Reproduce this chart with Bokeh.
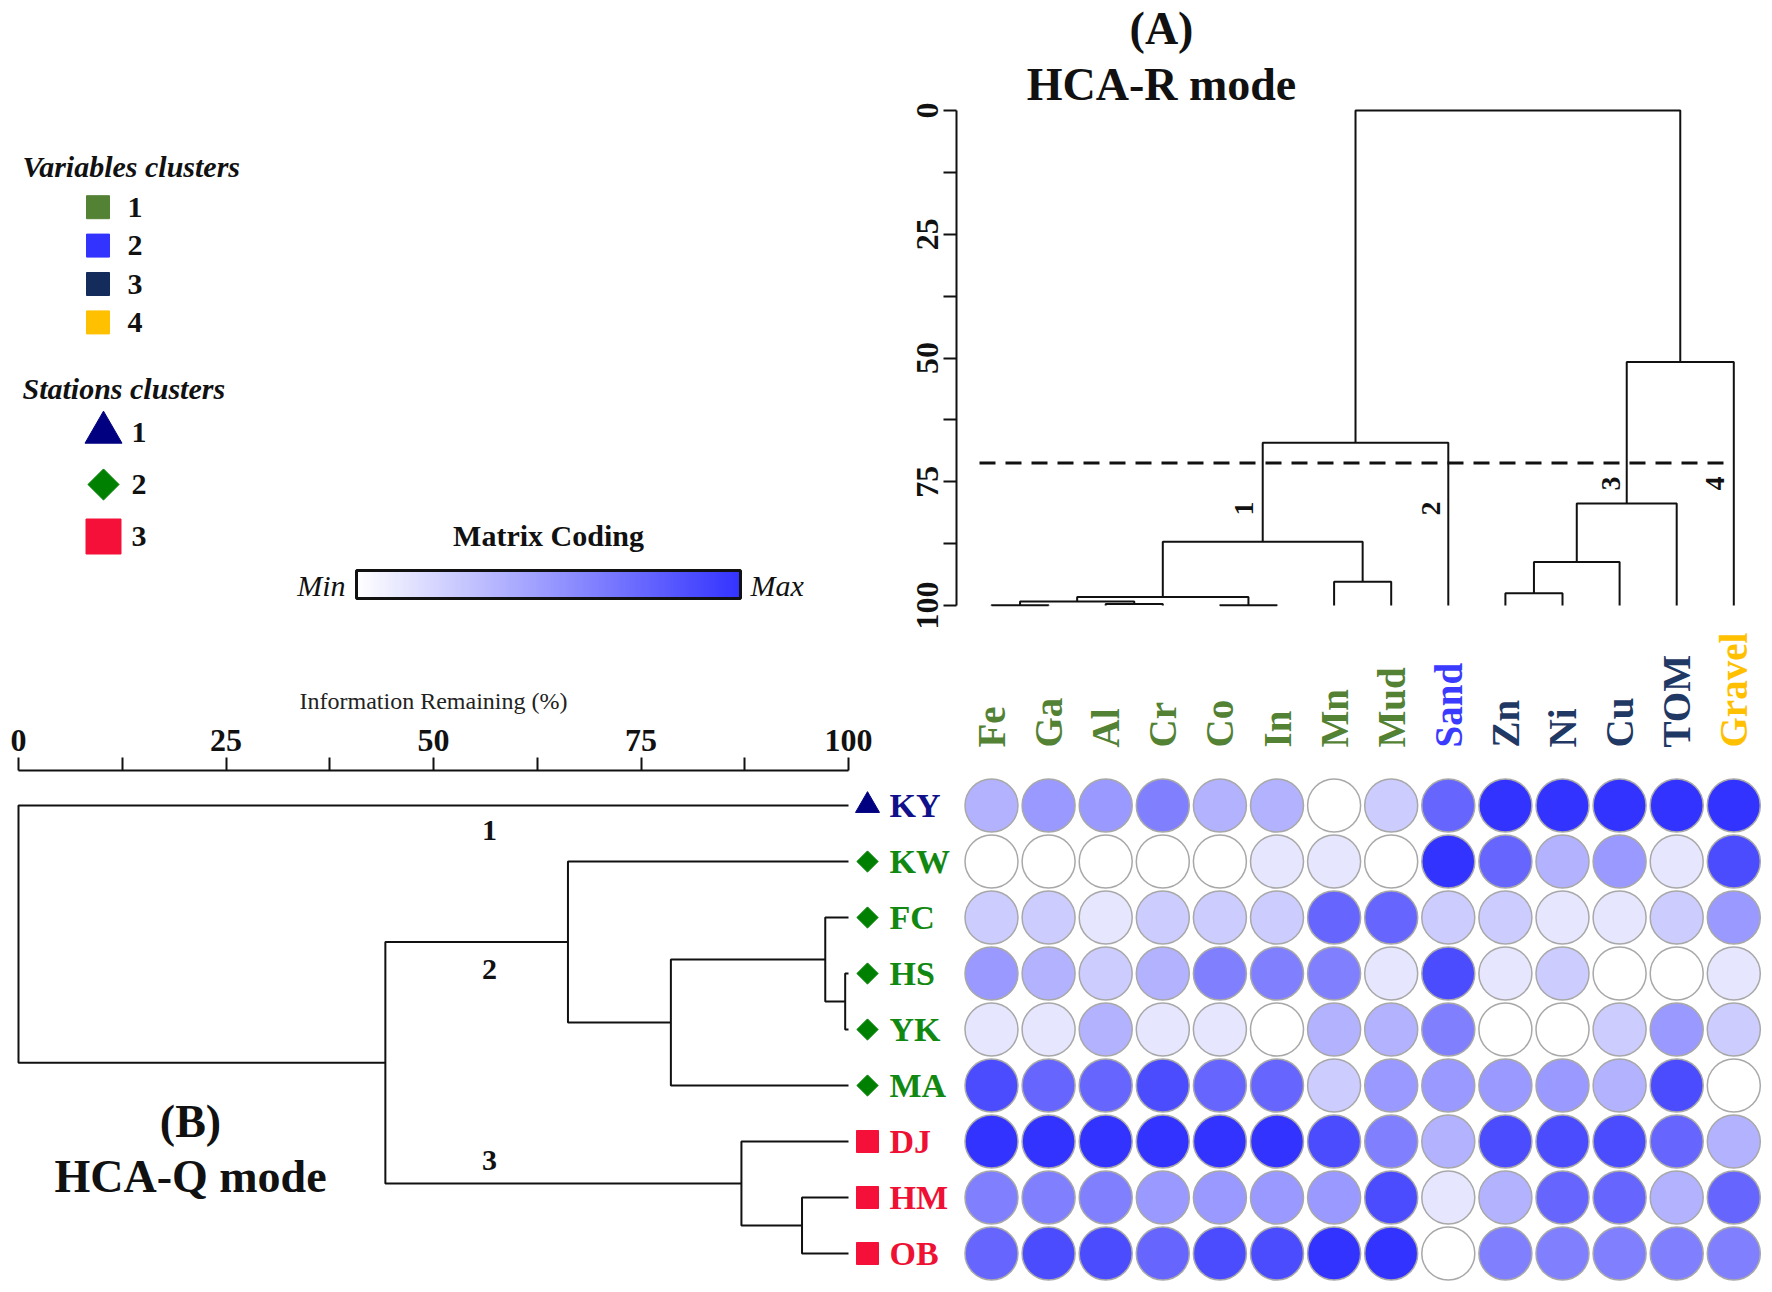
import math
import numpy as np
from bokeh.plotting import figure
from bokeh.models import Range1d, FixedTicker, LinearColorMapper, ColumnDataSource, LinearAxis
from bokeh.core.properties import value
from bokeh.transform import transform
from bokeh.embed import file_html
from bokeh.resources import INLINE

FONT = "Liberation Serif"

# ------------------------------------------------------------------ data
variables = ["Fe", "Ga", "Al", "Cr", "Co", "In", "Mn", "Mud", "Sand",
             "Zn", "Ni", "Cu", "TOM", "Gravel"]
variable_cluster = [1, 1, 1, 1, 1, 1, 1, 1, 2, 3, 3, 3, 3, 4]
stations = ["KY", "KW", "FC", "HS", "YK", "MA", "DJ", "HM", "OB"]
station_cluster = [1, 2, 2, 2, 2, 2, 3, 3, 3]

# R-mode (variables) merges: leaves 0..13, new node ids 14..
r_merge_a = [0, 2, 14, 4, 16, 6, 18, 20, 9, 22, 23, 24, 21]
r_merge_b = [1, 3, 15, 5, 17, 7, 19, 8, 10, 11, 12, 13, 25]
r_merge_h = [99.95, 99.7, 99.2, 99.95, 98.3, 95.2, 87.1, 67.1,
             97.5, 91.2, 79.4, 50.8, 0.0]
r_cut = 71.2

# Q-mode (stations) merges: leaves 0..8, new node ids 9..
q_merge_a = [3, 2, 10, 1, 7, 6, 12, 0]
q_merge_b = [4, 9, 5, 11, 8, 13, 14, 15]
q_merge_h = [99.6, 97.2, 78.6, 66.2, 94.4, 87.1, 44.2, 0.0]

leaf_height = 100.0

# matrix coding levels (0 = min ... 8 = max), one list per station
ky = [3, 4, 4, 5, 3, 3, 0, 2, 6, 8, 8, 8, 8, 8]
kw = [0, 0, 0, 0, 0, 1, 1, 0, 8, 6, 3, 4, 1, 7]
fc = [2, 2, 1, 2, 2, 2, 6, 6, 2, 2, 1, 1, 2, 4]
hs = [4, 3, 2, 3, 5, 5, 5, 1, 7, 1, 2, 0, 0, 1]
yk = [1, 1, 3, 1, 1, 0, 3, 3, 5, 0, 0, 2, 4, 2]
ma = [7, 6, 6, 7, 6, 6, 2, 4, 4, 4, 4, 3, 7, 0]
dj = [8, 8, 8, 8, 8, 8, 7, 5, 3, 7, 7, 7, 6, 3]
hm = [5, 5, 5, 4, 4, 4, 4, 7, 1, 3, 6, 6, 3, 6]
ob = [6, 7, 7, 6, 7, 7, 8, 8, 0, 5, 5, 5, 5, 5]
matrix_rows = [ky, kw, fc, hs, yk, ma, dj, hm, ob]
n_levels = 9

axis_ticks = [0, 25, 50, 75, 100]
axis_minor = [12.5, 37.5, 62.5, 87.5]

# ------------------------------------------------------------------ styles
var_colors = ["#548235", "#3333ff", "#142c5c", "#ffc000"]
var_text_colors = ["#548235", "#3b3bff", "#1f3864", "#ffc000"]
st_colors = ["#000080", "#008000", "#f5103a"]
st_text_colors = ["#10108a", "#118811", "#ee1133"]
st_markers = ["triangle", "square", "square"]
st_angles = [0.0, math.pi / 4, 0.0]
st_sizes = [24, 15, 22]
leg_sizes = [37, 22, 35]
INK = "#111111"


def lerp_hex(c0, c1, t):
    a = [int(c0[i:i + 2], 16) for i in (1, 3, 5)]
    b = [int(c1[i:i + 2], 16) for i in (1, 3, 5)]
    return "#%02x%02x%02x" % tuple(round(a[k] + (b[k] - a[k]) * t) for k in range(3))


level_palette = [lerp_hex("#ffffff", "#3333ff", i / (n_levels - 1)) for i in range(n_levels)]
grad_palette = [lerp_hex("#ffffff", "#3333ff", i / 255) for i in range(256)]

# ------------------------------------------------------------------ layout (page px)
PAGE_W, PAGE_H = 1772, 1292
R_AXIS_X = 956
COL0_PX, COL_STEP = 991.0, 57.1
R0_PX, R100_PX = 110.0, 605.0
ROW0_PX, ROW_STEP = 805.0, 56.0
Q0_PX, Q100_PX = 18.0, 848.0
Q_AXIS_Y = 770

R_SCALE = (R100_PX - R0_PX) / 100.0
Q_SCALE = (Q100_PX - Q0_PX) / 100.0


def col_of(px):
    return (px - COL0_PX) / COL_STEP


def r_of(py):
    return (py - R0_PX) / R_SCALE


def row_of(py):
    return (py - ROW0_PX) / ROW_STEP


def q_of(px):
    return (px - Q0_PX) / Q_SCALE


def dendro(n_leaves, ma_, mb_, mh_, leaf_h):
    pos = [float(i) for i in range(n_leaves)]
    hgt = [leaf_h] * n_leaves
    P, H = [], []
    for a, b, h in zip(ma_, mb_, mh_):
        P.append([pos[a], pos[a], pos[b], pos[b]])
        H.append([hgt[a], h, h, hgt[b]])
        pos.append((pos[a] + pos[b]) / 2.0)
        hgt.append(h)
    return P, H


def style_axis(ax):
    ax.bounds = (0, 100)
    ax.ticker = FixedTicker(ticks=axis_ticks, minor_ticks=axis_minor)
    ax.major_tick_out = 13
    ax.major_tick_in = 0
    ax.minor_tick_out = 13
    ax.minor_tick_in = 0
    ax.axis_line_width = 2
    ax.major_tick_line_width = 2
    ax.minor_tick_line_width = 2
    ax.axis_line_color = INK
    ax.major_tick_line_color = INK
    ax.minor_tick_line_color = INK
    ax.major_label_text_font = FONT
    ax.major_label_text_font_size = "32px"
    ax.major_label_text_font_style = "bold"
    ax.major_label_text_color = INK


p = figure(width=PAGE_W, height=PAGE_H, x_range=Range1d(0, PAGE_W),
           y_range=Range1d(PAGE_H, 0), output_backend="svg", toolbar_location=None,
           x_axis_location=None, y_axis_location=None, min_border=0)
p.outline_line_color = None
p.background_fill_color = "white"
p.border_fill_color = "white"
for g in p.grid:
    g.visible = False

p.extra_x_ranges = {"cols": Range1d(col_of(0), col_of(PAGE_W)),
                    "q": Range1d(q_of(0), q_of(PAGE_W))}
p.extra_y_ranges = {"r": Range1d(r_of(PAGE_H), r_of(0)),
                    "rows": Range1d(row_of(PAGE_H), row_of(0))}

# ------------------------------------------------------------------ legends (page px)
p.text(x=[22, 22], y=[166, 388], text=["Variables clusters", "Stations clusters"],
       text_font=value(FONT), text_font_size="30px", text_font_style="bold italic",
       text_color=INK, text_align="left", text_baseline="middle")

nvc = len(var_colors)
vy = [206.7 + i * 38.4 for i in range(nvc)]
p.scatter(x=[97.5] * nvc, y=vy, marker="square", size=23, color=var_colors)
p.text(x=[127] * nvc, y=vy, text=[str(i + 1) for i in range(nvc)],
       text_font=value(FONT), text_font_size="30px", text_font_style="bold",
       text_color=INK, text_align="left", text_baseline="middle")

nsc = len(st_colors)
sy = [432 + i * 52 for i in range(nsc)]
p.scatter(x=[103] * nsc, y=sy, marker=st_markers, size=leg_sizes, angle=st_angles,
          color=st_colors)
p.text(x=[131] * nsc, y=sy, text=[str(i + 1) for i in range(nsc)],
       text_font=value(FONT), text_font_size="30px", text_font_style="bold",
       text_color=INK, text_align="left", text_baseline="middle")

# matrix coding gradient bar
cb_x0, cb_x1, cb_y0, cb_y1 = 356, 740, 570, 598
grad_mapper = LinearColorMapper(palette=grad_palette, low=0, high=1)
p.image(image=[np.linspace(0, 1, 256).reshape(1, 256)], x=cb_x0, y=cb_y0,
        dw=cb_x1 - cb_x0, dh=cb_y1 - cb_y0, color_mapper=grad_mapper)
p.quad(left=cb_x0, right=cb_x1, top=cb_y0, bottom=cb_y1, fill_color=None,
       line_color=INK, line_width=3)
p.text(x=[(cb_x0 + cb_x1) / 2], y=[535], text=["Matrix Coding"],
       text_font=value(FONT), text_font_size="30px", text_font_style="bold",
       text_color=INK, text_align="center", text_baseline="middle")
p.text(x=[cb_x0 - 11, cb_x1 + 10], y=[585, 585], text=["Min", "Max"],
       text_font=value(FONT), text_font_size="30px", text_font_style="italic",
       text_color=INK, text_align=["right", "left"], text_baseline="middle")

# ------------------------------------------------------------------ HCA-R (variables)
ax_r = LinearAxis(y_range_name="r", fixed_location=R_AXIS_X)
style_axis(ax_r)
ax_r.major_label_orientation = "vertical"
ax_r.major_label_standoff = 6
p.add_layout(ax_r, "left")

rP, rH = dendro(len(variables), r_merge_a, r_merge_b, r_merge_h, leaf_height)
p.multi_line(xs=rP, ys=rH, line_color=INK, line_width=2,
             x_range_name="cols", y_range_name="r")
p.line(x=[col_of(979), len(variables) - 1], y=[r_cut, r_cut], line_color=INK,
       line_width=3, line_dash="16 10", x_range_name="cols", y_range_name="r")
p.text(x=[col_of(1243), col_of(1430), col_of(1610), col_of(1714)],
       y=[r_of(508), r_of(508), r_of(483), r_of(483)], text=["1", "2", "3", "4"],
       angle=math.pi / 2, text_font=value(FONT), text_font_size="28px",
       text_font_style="bold", text_color=INK, text_align="center",
       text_baseline="middle", x_range_name="cols", y_range_name="r")
p.text(x=[col_of(1161)] * 2, y=[r_of(28), r_of(84)], text=["(A)", "HCA-R mode"],
       text_font=value(FONT), text_font_size="46px", text_font_style="bold",
       text_color=INK, text_align="center", text_baseline="middle",
       x_range_name="cols", y_range_name="r")

# ------------------------------------------------------------------ HCA-Q (stations)
ax_q = LinearAxis(x_range_name="q", fixed_location=Q_AXIS_Y)
style_axis(ax_q)
ax_q.major_label_standoff = 7
ax_q.axis_label = "Information Remaining (%)"
ax_q.axis_label_text_font = FONT
ax_q.axis_label_text_font_size = "24px"
ax_q.axis_label_text_font_style = "normal"
ax_q.axis_label_text_color = "#222222"
ax_q.axis_label_standoff = 13
p.add_layout(ax_q, "above")

qP, qH = dendro(len(stations), q_merge_a, q_merge_b, q_merge_h, leaf_height)
p.multi_line(xs=qH, ys=qP, line_color=INK, line_width=2,
             x_range_name="q", y_range_name="rows")

ns = len(stations)
st_src = ColumnDataSource(dict(
    x=[q_of(867)] * ns, y=list(range(ns)),
    marker=[st_markers[c - 1] for c in station_cluster],
    size=[st_sizes[c - 1] for c in station_cluster],
    angle=[st_angles[c - 1] for c in station_cluster],
    color=[st_colors[c - 1] for c in station_cluster],
))
p.scatter(x="x", y="y", marker="marker", size="size", angle="angle",
          fill_color="color", line_color="color", source=st_src,
          x_range_name="q", y_range_name="rows")
p.text(x=[q_of(889)] * ns, y=list(range(ns)), text=stations,
       text_color=[st_text_colors[c - 1] for c in station_cluster],
       text_font=value(FONT), text_font_size="34px", text_font_style="bold",
       text_align="left", text_baseline="middle", x_range_name="q", y_range_name="rows")
p.text(x=[q_of(489)] * 3, y=[row_of(830), row_of(969), row_of(1160)],
       text=["1", "2", "3"], text_font=value(FONT), text_font_size="30px",
       text_font_style="bold", text_color=INK, text_align="center",
       text_baseline="middle", x_range_name="q", y_range_name="rows")
p.text(x=[q_of(190)] * 2, y=[row_of(1121), row_of(1176)], text=["(B)", "HCA-Q mode"],
       text_font=value(FONT), text_font_size="46px", text_font_style="bold",
       text_color=INK, text_align="center", text_baseline="middle",
       x_range_name="q", y_range_name="rows")

# ------------------------------------------------------------------ matrix
cols, rows_, levels = [], [], []
for r, vals in enumerate(matrix_rows):
    for c, v in enumerate(vals):
        cols.append(c)
        rows_.append(r)
        levels.append(v)
m_src = ColumnDataSource(dict(col=cols, row=rows_, level=levels))
lvl_mapper = LinearColorMapper(palette=level_palette, low=0, high=n_levels - 1)
p.scatter(x="col", y="row", marker="circle", size=53, source=m_src,
          fill_color=transform("level", lvl_mapper), line_color="#a8a8a8",
          line_width=1.5, x_range_name="cols", y_range_name="rows")
nv = len(variables)
p.text(x=list(range(nv)), y=[row_of(747)] * nv, text=variables, angle=math.pi / 2,
       text_color=[var_text_colors[c - 1] for c in variable_cluster],
       text_font=value(FONT), text_font_size="39px", text_font_style="bold",
       text_align="left", text_baseline="middle", x_range_name="cols", y_range_name="rows")

open("out.html", "w").write(file_html(p, INLINE))
